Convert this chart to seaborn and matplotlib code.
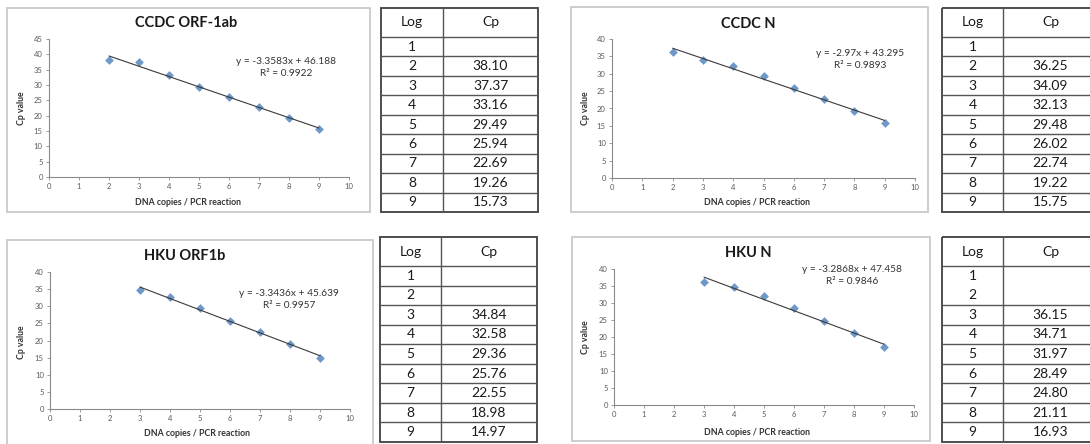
import numpy as np
import pandas as pd
import seaborn as sns
import matplotlib.pyplot as plt
from matplotlib.patches import Rectangle

# data
log_values = [1, 2, 3, 4, 5, 6, 7, 8, 9]
ccdc_orf1ab_cp = [np.nan, 38.10, 37.37, 33.16, 29.49, 25.94, 22.69, 19.26, 15.73]
ccdc_n_cp = [np.nan, 36.25, 34.09, 32.13, 29.48, 26.02, 22.74, 19.22, 15.75]
hku_orf1b_cp = [np.nan, np.nan, 34.84, 32.58, 29.36, 25.76, 22.55, 18.98, 14.97]
hku_n_cp = [np.nan, np.nan, 36.15, 34.71, 31.97, 28.49, 24.80, 21.11, 16.93]

titles = ["CCDC ORF-1ab", "CCDC N", "HKU ORF1b", "HKU N"]
equations = ["y = -3.3583x + 46.188", "y = -2.97x + 43.295",
             "y = -3.3436x + 45.639", "y = -3.2868x + 47.458"]
r2_labels = ["R² = 0.9922", "R² = 0.9893", "R² = 0.9957", "R² = 0.9846"]
y_tops = [45, 40, 40, 40]
x_label = "DNA copies / PCR reaction"
y_label = "Cp value"

W, H = 1090, 444
sns.set_style("white")
plt.rcParams["font.family"] = ["Lato", "DejaVu Sans"]

fig = plt.figure(figsize=(W / 100, H / 100), dpi=100)
fig.patch.set_facecolor("white")


def px_axes(left, top, right, bottom):
    return fig.add_axes([left / W, 1 - bottom / H, (right - left) / W, (bottom - top) / H])


def px_text(x, y, s, **kw):
    fig.text(x / W, 1 - y / H, s, ha="center", va="center", **kw)


def px_box(left, top, right, bottom, **kw):
    fig.add_artist(Rectangle((left / W, 1 - bottom / H), (right - left) / W, (bottom - top) / H,
                             transform=fig.transFigure, fill=False, **kw))


# layout in pixels: chart box, plot area, title/eq/label spots, table box
panels = [
    dict(cp=ccdc_orf1ab_cp, box=(7, 8, 370, 212), plot=(49, 39, 349, 177),
         title=(186, 23), eq=(286, 61, 73), xl=(188, 202), yl=(21, 108),
         table=(381, 8, 538, 212), div=443, head=37, skip=[]),
    dict(cp=ccdc_n_cp, box=(571, 7, 928, 212), plot=(612, 39, 915, 178),
         title=(748, 24), eq=(860, 54, 66), xl=(757, 202), yl=(585, 108),
         table=(942, 8, 1098, 212), div=1003, head=37, skip=[]),
    dict(cp=hku_orf1b_cp, box=(7, 240, 373, 470), plot=(50, 272, 350, 409),
         title=(185, 256), eq=(289, 293, 305), xl=(197, 433), yl=(21, 342),
         table=(380, 237, 537, 442), div=441, head=266, skip=[]),
    dict(cp=hku_n_cp, box=(572, 237, 930, 441), plot=(614, 269, 914, 405),
         title=(748, 253), eq=(852, 269, 282), xl=(757, 432), yl=(585, 337),
         table=(942, 237, 1098, 442), div=1003, head=266, skip=[1]),
]

for i, p in enumerate(panels):
    px_box(*p["box"], ec="#c9c9c9", lw=1.3)

    df = pd.DataFrame({"log": log_values, "cp": p["cp"]}).dropna()
    ax = px_axes(*p["plot"])
    ax.set_facecolor("none")
    sns.regplot(data=df, x="log", y="cp", ax=ax, ci=None, marker="D",
                scatter_kws=dict(color="#4A7EBB", s=20, linewidths=0, zorder=2),
                line_kws=dict(color="#3a3a3a", lw=0.8, zorder=3))
    ax.set_xlim(0, 10)
    ax.set_ylim(0, y_tops[i])
    ax.set_xticks(range(0, 11))
    ax.set_yticks(range(0, y_tops[i] + 1, 5))
    ax.set(xlabel=None, ylabel=None)
    ax.tick_params(labelsize=5.5, labelcolor="#5a5a5a", length=2, width=0.6,
                   color="#8a8a8a", pad=2.5, direction="out", left=True, bottom=True)
    for side in ["top", "right"]:
        ax.spines[side].set_visible(False)
    for side in ["left", "bottom"]:
        ax.spines[side].set_color("#8a8a8a")
        ax.spines[side].set_linewidth(0.8)

    px_text(*p["title"], titles[i], fontsize=10.5, fontweight="bold", color="#1a1a1a")
    ex, ey1, ey2 = p["eq"]
    px_text(ex, ey1, equations[i], fontsize=7.3, color="#333333")
    px_text(ex, ey2, r2_labels[i], fontsize=7.3, color="#333333")
    px_text(*p["xl"], x_label, fontsize=6.3, fontweight="bold", color="#333333")
    px_text(*p["yl"], y_label, fontsize=6.3, fontweight="bold", color="#333333", rotation=90)

    # table of values
    tl, tt, tr, tb = p["table"]
    tax = px_axes(tl, tt, tr, tb)
    tax.set_xlim(0, tr - tl)
    tax.set_ylim(tb - tt, 0)
    tax.axis("off")
    tw, th = tr - tl, tb - tt
    dv, hd = p["div"] - tl, p["head"] - tt
    row_h = (th - hd) / len(log_values)
    tax.add_patch(Rectangle((0, 0), tw, th, fill=False, ec="#404040", lw=1.3, clip_on=False))
    tax.plot([dv, dv], [0, th], color="#555555", lw=1.0)
    tax.plot([0, tw], [hd, hd], color="#555555", lw=1.0)
    for k in range(1, len(log_values)):
        if k in p["skip"]:
            continue
        yy = hd + k * row_h
        tax.plot([0, tw], [yy, yy], color="#555555", lw=1.0)
    tax.text(dv / 2, hd / 2, "Log", ha="center", va="center", fontsize=10, color="#1a1a1a")
    tax.text((dv + tw) / 2, hd / 2, "Cp", ha="center", va="center", fontsize=10, color="#1a1a1a")
    for k, (lg, cp) in enumerate(zip(log_values, p["cp"])):
        yy = hd + (k + 0.5) * row_h
        tax.text(dv / 2, yy, str(lg), ha="center", va="center", fontsize=10, color="#1a1a1a")
        if not np.isnan(cp):
            tax.text((dv + tw) / 2, yy, f"{cp:.2f}", ha="center", va="center",
                     fontsize=10, color="#1a1a1a")

plt.savefig("out.png", dpi=100)
